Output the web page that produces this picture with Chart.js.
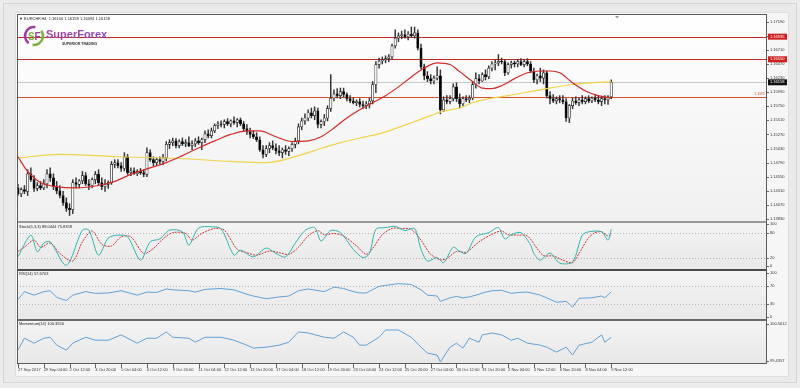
<!DOCTYPE html>
<html>
<head>
<meta charset="utf-8">
<script src="https://cdn.jsdelivr.net/npm/chart.js@4.4.1/dist/chart.umd.min.js"></script>
<style>
html, body { margin: 0; padding: 0; background: #ececec; }
#wrap { position: relative; width: 800px; height: 388px; overflow: hidden; }
#outer { position: absolute; left: 3px; top: 3px; width: 792px; height: 378px; border: 1px solid #d4d4d4; background: #eaeaea; }
#inner { position: absolute; left: 15px; top: 12px; width: 772px; height: 363px; background: #f6f6f6; border: 1px solid #dedede; }
canvas { position: absolute; left: 0; top: 0; }
</style>
</head>
<body>
<div id="wrap">
  <div id="outer"></div>
  <div id="inner"></div>
  <canvas id="chart" width="800" height="388"></canvas>
</div>
<script>
// time labels, one every 8 H4 bars
let xLabels = ['27 Sep 2017', '29 Sep 04:00', '2 Oct 12:00', '3 Oct 20:00', '5 Oct 04:00', '6 Oct 12:00',
  '9 Oct 20:00', '11 Oct 04:00', '12 Oct 12:00', '13 Oct 20:00', '17 Oct 04:00', '18 Oct 12:00',
  '19 Oct 20:00', '23 Oct 04:00', '24 Oct 12:00', '25 Oct 20:00', '27 Oct 04:00', '30 Oct 12:00',
  '31 Oct 20:00', '2 Nov 04:00', '3 Nov 12:00', '6 Nov 20:00', '8 Nov 04:00', '9 Nov 12:00'];
let priceTicks = [1.17190, 1.16950, 1.16710, 1.16470, 1.16230, 1.15990, 1.15750, 1.15510,
  1.15270, 1.15030, 1.14790, 1.14550, 1.14310, 1.14070, 1.13830];

// EURCHF H4 candles
let opens = [
  1.1436, 1.1426, 1.1433, 1.1430, 1.1460, 1.1450, 1.1435, 1.1440, 1.1436, 1.1443,
  1.1460, 1.1453, 1.1438, 1.1431, 1.1423, 1.1411, 1.1401, 1.1399, 1.1445, 1.1442,
  1.1448, 1.1457, 1.1443, 1.1440, 1.1450, 1.1459, 1.1445, 1.1438, 1.1442, 1.1445,
  1.1476, 1.1479, 1.1474, 1.1469, 1.1489, 1.1462, 1.1465, 1.1460, 1.1464, 1.1462,
  1.1459, 1.1496, 1.1484, 1.1479, 1.1484, 1.1481, 1.1487, 1.1510, 1.1513, 1.1516,
  1.1508, 1.1515, 1.1511, 1.1513, 1.1508, 1.1511, 1.1516, 1.1513, 1.1518, 1.1528,
  1.1525, 1.1533, 1.1542, 1.1545, 1.1544, 1.1549, 1.1545, 1.1550, 1.1547, 1.1552,
  1.1545, 1.1537, 1.1532, 1.1527, 1.1523, 1.1518, 1.1501, 1.1493, 1.1503, 1.1508,
  1.1504, 1.1499, 1.1496, 1.1501, 1.1498, 1.1503, 1.1510, 1.1516, 1.1540, 1.1550,
  1.1555, 1.1564, 1.1559, 1.1567, 1.1544, 1.1549, 1.1555, 1.1571, 1.1589, 1.1596,
  1.1593, 1.1600, 1.1595, 1.1588, 1.1584, 1.1581, 1.1583, 1.1578, 1.1576, 1.1579,
  1.1584, 1.1612, 1.1646, 1.1652, 1.1654, 1.1656, 1.1659, 1.1678, 1.1691, 1.1695,
  1.1697, 1.1693, 1.1698, 1.1695, 1.1700, 1.1674, 1.1642, 1.1627, 1.1622, 1.1618,
  1.1623, 1.1627, 1.1569, 1.1586, 1.1583, 1.1588, 1.1608, 1.1588, 1.1579, 1.1588,
  1.1586, 1.1589, 1.1612, 1.1622, 1.1618, 1.1629, 1.1625, 1.1640, 1.1647, 1.1649,
  1.1652, 1.1651, 1.1632, 1.1646, 1.1649, 1.1647, 1.1651, 1.1646, 1.1651, 1.1647,
  1.1635, 1.1620, 1.1627, 1.1623, 1.1632, 1.1593, 1.1588, 1.1584, 1.1588, 1.1586,
  1.1583, 1.1555, 1.1576, 1.1584, 1.1581, 1.1586, 1.1583, 1.1588, 1.1584, 1.1589,
  1.1586, 1.1583, 1.1588, 1.1586, 1.1591];
let highs = [
  1.1442, 1.1436, 1.1440, 1.1467, 1.1470, 1.1457, 1.1445, 1.1447, 1.1450, 1.1467,
  1.1470, 1.1460, 1.1447, 1.1440, 1.1430, 1.1419, 1.1409, 1.1450, 1.1453, 1.1450,
  1.1464, 1.1462, 1.1450, 1.1453, 1.1464, 1.1467, 1.1453, 1.1450, 1.1448, 1.1481,
  1.1484, 1.1484, 1.1479, 1.1496, 1.1493, 1.1470, 1.1470, 1.1467, 1.1469, 1.1467,
  1.1504, 1.1501, 1.1489, 1.1487, 1.1489, 1.1493, 1.1515, 1.1518, 1.1521, 1.1520,
  1.1518, 1.1521, 1.1518, 1.1523, 1.1516, 1.1520, 1.1523, 1.1521, 1.1533, 1.1535,
  1.1538, 1.1545, 1.1549, 1.1550, 1.1552, 1.1554, 1.1552, 1.1557, 1.1554, 1.1555,
  1.1549, 1.1544, 1.1538, 1.1533, 1.1530, 1.1523, 1.1508, 1.1508, 1.1513, 1.1516,
  1.1511, 1.1508, 1.1504, 1.1508, 1.1506, 1.1513, 1.1521, 1.1545, 1.1555, 1.1562,
  1.1569, 1.1572, 1.1574, 1.1572, 1.1552, 1.1561, 1.1576, 1.1629, 1.1603, 1.1605,
  1.1606, 1.1606, 1.1598, 1.1593, 1.1589, 1.1586, 1.1588, 1.1584, 1.1583, 1.1589,
  1.1617, 1.1651, 1.1657, 1.1659, 1.1661, 1.1663, 1.1681, 1.1705, 1.1700, 1.1703,
  1.1705, 1.1702, 1.1710, 1.1710, 1.1705, 1.1681, 1.1647, 1.1634, 1.1629, 1.1627,
  1.1642, 1.1637, 1.1591, 1.1593, 1.1593, 1.1613, 1.1615, 1.1596, 1.1591, 1.1593,
  1.1593, 1.1617, 1.1632, 1.1629, 1.1632, 1.1637, 1.1644, 1.1651, 1.1654, 1.1663,
  1.1657, 1.1654, 1.1649, 1.1652, 1.1652, 1.1654, 1.1656, 1.1654, 1.1656, 1.1651,
  1.1640, 1.1630, 1.1640, 1.1637, 1.1635, 1.1600, 1.1595, 1.1591, 1.1593, 1.1593,
  1.1588, 1.1578, 1.1589, 1.1591, 1.1589, 1.1593, 1.1591, 1.1593, 1.1591, 1.1595,
  1.1593, 1.1591, 1.1593, 1.1593, 1.1620];
let lows = [
  1.1423, 1.1421, 1.1426, 1.1423, 1.1447, 1.1430, 1.1431, 1.1433, 1.1433, 1.1436,
  1.1447, 1.1433, 1.1426, 1.1419, 1.1406, 1.1396, 1.1389, 1.1392, 1.1436, 1.1436,
  1.1443, 1.1440, 1.1433, 1.1436, 1.1443, 1.1440, 1.1433, 1.1430, 1.1435, 1.1442,
  1.1470, 1.1470, 1.1464, 1.1465, 1.1459, 1.1457, 1.1459, 1.1457, 1.1459, 1.1455,
  1.1455, 1.1481, 1.1474, 1.1474, 1.1477, 1.1476, 1.1482, 1.1503, 1.1508, 1.1504,
  1.1504, 1.1508, 1.1506, 1.1506, 1.1501, 1.1506, 1.1510, 1.1501, 1.1513, 1.1521,
  1.1521, 1.1530, 1.1537, 1.1540, 1.1538, 1.1542, 1.1540, 1.1544, 1.1540, 1.1542,
  1.1532, 1.1527, 1.1521, 1.1520, 1.1515, 1.1498, 1.1487, 1.1489, 1.1496, 1.1501,
  1.1494, 1.1491, 1.1487, 1.1493, 1.1491, 1.1498, 1.1504, 1.1511, 1.1535, 1.1544,
  1.1550, 1.1555, 1.1552, 1.1538, 1.1538, 1.1542, 1.1550, 1.1566, 1.1584, 1.1589,
  1.1588, 1.1591, 1.1584, 1.1581, 1.1579, 1.1576, 1.1574, 1.1571, 1.1571, 1.1572,
  1.1579, 1.1598, 1.1640, 1.1647, 1.1649, 1.1651, 1.1656, 1.1674, 1.1685, 1.1690,
  1.1691, 1.1688, 1.1693, 1.1691, 1.1671, 1.1639, 1.1620, 1.1617, 1.1613, 1.1613,
  1.1620, 1.1562, 1.1566, 1.1579, 1.1579, 1.1584, 1.1583, 1.1572, 1.1576, 1.1583,
  1.1581, 1.1586, 1.1606, 1.1613, 1.1617, 1.1620, 1.1622, 1.1635, 1.1637, 1.1644,
  1.1647, 1.1627, 1.1629, 1.1640, 1.1642, 1.1642, 1.1644, 1.1642, 1.1644, 1.1632,
  1.1615, 1.1613, 1.1617, 1.1613, 1.1589, 1.1579, 1.1581, 1.1579, 1.1581, 1.1579,
  1.1549, 1.1547, 1.1571, 1.1578, 1.1576, 1.1579, 1.1579, 1.1581, 1.1581, 1.1583,
  1.1579, 1.1576, 1.1579, 1.1578, 1.1588];
let closes = [
  1.1426, 1.1433, 1.1430, 1.1460, 1.1450, 1.1435, 1.1440, 1.1436, 1.1443, 1.1460,
  1.1453, 1.1438, 1.1431, 1.1423, 1.1411, 1.1401, 1.1399, 1.1445, 1.1442, 1.1448,
  1.1457, 1.1443, 1.1440, 1.1450, 1.1459, 1.1445, 1.1438, 1.1442, 1.1445, 1.1476,
  1.1479, 1.1474, 1.1469, 1.1489, 1.1462, 1.1465, 1.1460, 1.1464, 1.1462, 1.1459,
  1.1496, 1.1484, 1.1479, 1.1484, 1.1481, 1.1487, 1.1510, 1.1513, 1.1516, 1.1508,
  1.1515, 1.1511, 1.1513, 1.1508, 1.1511, 1.1516, 1.1513, 1.1518, 1.1528, 1.1525,
  1.1533, 1.1542, 1.1545, 1.1544, 1.1549, 1.1545, 1.1550, 1.1547, 1.1552, 1.1545,
  1.1537, 1.1532, 1.1527, 1.1523, 1.1518, 1.1501, 1.1493, 1.1503, 1.1508, 1.1504,
  1.1499, 1.1496, 1.1501, 1.1498, 1.1503, 1.1510, 1.1516, 1.1540, 1.1550, 1.1555,
  1.1564, 1.1559, 1.1567, 1.1544, 1.1549, 1.1555, 1.1571, 1.1589, 1.1596, 1.1593,
  1.1600, 1.1595, 1.1588, 1.1584, 1.1581, 1.1583, 1.1578, 1.1576, 1.1579, 1.1584,
  1.1612, 1.1646, 1.1652, 1.1654, 1.1656, 1.1659, 1.1678, 1.1691, 1.1695, 1.1697,
  1.1693, 1.1698, 1.1695, 1.1700, 1.1674, 1.1642, 1.1627, 1.1622, 1.1618, 1.1623,
  1.1627, 1.1569, 1.1586, 1.1583, 1.1588, 1.1608, 1.1588, 1.1579, 1.1588, 1.1586,
  1.1589, 1.1612, 1.1622, 1.1618, 1.1629, 1.1625, 1.1640, 1.1647, 1.1649, 1.1652,
  1.1651, 1.1632, 1.1646, 1.1649, 1.1647, 1.1651, 1.1646, 1.1651, 1.1647, 1.1635,
  1.1620, 1.1627, 1.1623, 1.1632, 1.1593, 1.1588, 1.1584, 1.1588, 1.1586, 1.1583,
  1.1555, 1.1576, 1.1584, 1.1581, 1.1586, 1.1583, 1.1588, 1.1584, 1.1589, 1.1586,
  1.1583, 1.1588, 1.1586, 1.1591, 1.1616];

// moving averages, [bar, price]
let redMA = [[0, 1.1489], [3, 1.1464], [7, 1.1445], [12, 1.1438], [18, 1.1436], [25, 1.1440], [30, 1.1447],
  [35, 1.1459], [41, 1.1470], [46, 1.1479], [51, 1.1491], [56, 1.1504], [61, 1.1516], [66, 1.1527],
  [71, 1.1533], [75, 1.1533], [80, 1.1523], [85, 1.1515], [90, 1.1516], [94, 1.1523], [98, 1.1538],
  [102, 1.1555], [106, 1.1569], [110, 1.1581], [114, 1.1593], [118, 1.1608], [122, 1.1625], [126, 1.1640],
  [130, 1.1649], [134, 1.1646], [137, 1.1634], [141, 1.1617], [144, 1.1606], [147, 1.1605], [150, 1.1610],
  [154, 1.1622], [158, 1.1632], [162, 1.1635], [165, 1.1635], [168, 1.1632], [172, 1.1615], [176, 1.1601],
  [180, 1.1593], [184, 1.1589]];
let yellowMA = [[0, 1.1487], [13, 1.1493], [31, 1.1489], [50, 1.1486], [66, 1.1481], [77, 1.1479],
  [87, 1.1491], [94, 1.1503], [100, 1.1513], [106, 1.1521], [112, 1.1528], [116, 1.1535], [122, 1.1547],
  [128, 1.1559], [132, 1.1567], [137, 1.1572], [141, 1.1581], [146, 1.1588], [152, 1.1593], [162, 1.1603],
  [172, 1.1612], [184, 1.1617]];

// Stochastic(5,3,3)
let stochMain = [[0, 22], [4, 74], [6, 34], [8, 55], [10, 58], [15, 2], [20, 86], [22, 86], [25, 26], [28, 67],
  [31, 74], [34, 70], [38, 14], [41, 58], [44, 65], [47, 86], [51, 82], [53, 50], [56, 91], [60, 94], [63, 89],
  [67, 26], [69, 38], [73, 22], [77, 43], [80, 30], [83, 22], [86, 55], [89, 85], [92, 92], [94, 60], [97, 85],
  [100, 80], [104, 40], [107, 20], [109, 30], [111, 88], [114, 92], [117, 95], [120, 85], [123, 90], [125, 40],
  [127, 12], [130, 20], [132, 8], [135, 45], [137, 35], [139, 30], [142, 70], [146, 80], [149, 92], [151, 65],
  [153, 75], [156, 80], [159, 50], [160, 30], [162, 14], [165, 31], [168, 7], [172, 10], [175, 74], [177, 82],
  [181, 82], [183, 62], [184, 88]];
let stochSignal = [[0, 35], [2, 45], [5, 62], [7, 45], [10, 55], [13, 30], [17, 12], [20, 58], [23, 84], [26, 52],
  [29, 48], [32, 70], [35, 70], [39, 30], [42, 42], [45, 65], [48, 80], [52, 78], [54, 62], [57, 78], [61, 90],
  [64, 86], [68, 40], [71, 32], [74, 26], [78, 36], [81, 32], [84, 28], [87, 45], [90, 72], [93, 85], [95, 75],
  [98, 78], [101, 72], [105, 48], [108, 28], [110, 42], [113, 75], [116, 90], [119, 90], [122, 88], [125, 62],
  [128, 28], [131, 15], [133, 18], [136, 35], [139, 33], [143, 58], [147, 76], [150, 84], [152, 75], [155, 74],
  [158, 72], [161, 42], [163, 25], [166, 24], [169, 14], [172, 8], [174, 30], [177, 68], [179, 80], [181, 82],
  [183, 72], [184, 76]];

// RSI(14)
let rsi = [[0, 40], [2, 58], [5, 50], [8, 58], [10, 60], [12, 45], [15, 38], [17, 50], [21, 58], [24, 54],
  [28, 55], [32, 60], [37, 50], [40, 57], [43, 56], [46, 64], [48, 62], [53, 60], [55, 57], [58, 63], [63, 65],
  [67, 62], [71, 52], [73, 48], [77, 42], [81, 46], [84, 48], [87, 60], [90, 64], [95, 58], [98, 68], [101, 65],
  [104, 58], [106, 55], [108, 55], [112, 70], [114, 72], [118, 76], [122, 74], [125, 62], [127, 50], [130, 48],
  [131, 36], [134, 44], [136, 47], [138, 44], [140, 46], [143, 52], [144, 55], [147, 60], [150, 61], [153, 54],
  [155, 56], [158, 57], [162, 50], [164, 44], [167, 34], [170, 36], [172, 23], [174, 43], [178, 44], [181, 48],
  [182, 44], [184, 57.67]];

// Momentum(14)
let momentum = [[0, 99.77], [2, 100.13], [5, 99.98], [8, 100.13], [10, 100.16], [12, 99.92], [15, 99.77],
  [17, 99.98], [21, 100.16], [24, 100.07], [28, 100.07], [32, 100.23], [37, 99.98], [40, 100.13], [43, 100.13],
  [46, 100.32], [48, 100.16], [53, 100.13], [55, 100.01], [58, 100.16], [63, 100.16], [67, 100.07], [71, 99.92],
  [73, 99.83], [77, 99.86], [81, 99.92], [84, 100.01], [87, 100.32], [90, 100.29], [95, 100.16], [98, 100.13],
  [101, 100.32], [104, 100.16], [106, 99.92], [108, 99.92], [112, 100.16], [114, 100.38], [118, 100.38],
  [122, 100.16], [125, 99.86], [127, 99.68], [130, 99.62], [131, 99.41], [134, 99.86], [136, 99.98],
  [138, 99.83], [140, 100.13], [143, 100.01], [144, 100.23], [147, 100.29], [150, 100.23], [153, 100.07],
  [155, 100.13], [158, 99.98], [162, 99.92], [164, 99.86], [167, 99.71], [170, 99.86], [172, 99.62],
  [174, 99.92], [178, 100.01], [181, 100.23], [182, 100.01], [184, 100.16]];

// horizontal levels drawn on the price pane
let levels = [1.16935, 1.16550];
let supportLevel = 1.15913;
let lastPrice = 1.16158;

const FONT = '"Liberation Sans", Arial, sans-serif';
Chart.defaults.font.family = FONT;
Chart.defaults.font.size = 4;
Chart.defaults.color = '#333';

const pts = arr => arr.map(p => ({x: p[0], y: p[1]}));
const wicks = lows.map((l, i) => ({x: i, y: [l, highs[i]]}));
const bodies = opens.map((o, i) => ({x: i, y: [o, closes[i]]}));
const bodyColors = opens.map((o, i) => closes[i] >= o ? '#ffffff' : '#000000');

function hline(ctx, area, scale, v, color, width, dash) {
  const y = Math.round(scale.getPixelForValue(v)) + 0.5;
  ctx.save();
  ctx.strokeStyle = color;
  ctx.lineWidth = width;
  ctx.setLineDash(dash || []);
  ctx.beginPath();
  ctx.moveTo(area.left, y);
  ctx.lineTo(area.right, y);
  ctx.stroke();
  ctx.restore();
}

function priceBox(ctx, area, scale, v, color) {
  const y = scale.getPixelForValue(v);
  ctx.fillStyle = color;
  ctx.fillRect(area.right + 1, y - 3, 19, 6);
  ctx.fillStyle = '#fff';
  ctx.font = '4px ' + FONT;
  ctx.textBaseline = 'middle';
  ctx.fillText(v.toFixed(5), area.right + 3, y);
}

function drawLogo(ctx) {
  ctx.save();
  ctx.lineWidth = 2.6;
  ctx.strokeStyle = '#9c3d9f';
  ctx.beginPath(); ctx.arc(34, 36, 9, Math.PI * 0.7, Math.PI * 1.55); ctx.stroke();
  ctx.strokeStyle = '#7ab343';
  ctx.beginPath(); ctx.arc(34, 36, 9, Math.PI * 1.8, Math.PI * 0.55); ctx.stroke();
  ctx.font = 'bold 10px ' + FONT;
  ctx.textBaseline = 'alphabetic';
  ctx.fillStyle = '#7ab343'; ctx.fillText('S', 28, 40);
  ctx.fillStyle = '#9c3d9f'; ctx.fillText('F', 34.5, 40);
  ctx.font = 'bold 11px ' + FONT;
  const g = ctx.createLinearGradient(46, 0, 98, 0);
  g.addColorStop(0, '#a8449e');
  g.addColorStop(1, '#8a4cc0');
  ctx.fillStyle = g;
  ctx.fillText('SuperForex', 46, 38);
  ctx.font = 'bold 3.5px ' + FONT;
  ctx.fillStyle = '#333';
  ctx.fillText('SUPERIOR TRADING', 62, 45);
  ctx.restore();
}

const mtFrame = {
  id: 'mtFrame',
  beforeDraw(chart) {
    const {ctx, chartArea: a, scales: s} = chart;
    ctx.save();
    const g = ctx.createLinearGradient(0, s.yMain.top, 0, s.yMain.bottom);
    g.addColorStop(0, '#ffffff');
    g.addColorStop(1, '#f0f0f0');
    ctx.fillStyle = g;
    ctx.fillRect(a.left, s.yMain.top, a.right - a.left, s.yMain.bottom - s.yMain.top);
    ['yStoch', 'yRsi', 'yMom'].forEach(id => {
      const sc = s[id];
      const g2 = ctx.createLinearGradient(0, sc.top, 0, sc.bottom);
      g2.addColorStop(0, '#f4f4f4');
      g2.addColorStop(1, '#e8e8e8');
      ctx.fillStyle = g2;
      ctx.fillRect(a.left, sc.top, a.right - a.left, sc.bottom - sc.top);
    });
    ctx.restore();
  },
  beforeDatasetsDraw(chart) {
    const {ctx, chartArea: a, scales: s} = chart;
    hline(ctx, a, s.yMain, lastPrice, '#c9c9c9', 1);
    levels.forEach(v => hline(ctx, a, s.yMain, v, '#c62828', 1));
    hline(ctx, a, s.yMain, supportLevel, '#d2502e', 1);
    [80, 20].forEach(v => hline(ctx, a, s.yStoch, v, '#b4b4b4', 1, [1, 2]));
    [70, 30].forEach(v => hline(ctx, a, s.yRsi, v, '#b4b4b4', 1, [1, 2]));
  },
  afterDraw(chart) {
    const {ctx, chartArea: a, scales: s} = chart;
    ctx.save();
    // pane separators and frame
    ctx.fillStyle = '#9a9a9a';
    ctx.fillRect(a.left, s.yMain.bottom - 1, a.right - a.left, 2);
    ctx.fillStyle = '#4a4a4a';
    ctx.fillRect(a.left, s.yStoch.bottom - 1, a.right - a.left, 2);
    ctx.fillStyle = '#6a6a6a';
    ctx.fillRect(a.left, s.yRsi.bottom - 1, a.right - a.left, 2);
    ctx.strokeStyle = '#5a5a5a';
    ctx.lineWidth = 1;
    ctx.strokeRect(a.left + 0.5, a.top + 0.5, a.right - a.left - 1, a.bottom - a.top - 1);
    // tick marks
    ctx.strokeStyle = '#666';
    ctx.beginPath();
    s.x.ticks.forEach(t => {
      const x = Math.round(s.x.getPixelForValue(t.value)) + 0.5;
      ctx.moveTo(x, a.bottom); ctx.lineTo(x, a.bottom + 4);
    });
    ['yMain', 'yStoch', 'yRsi', 'yMom'].forEach(id => {
      s[id].ticks.forEach(t => {
        const y = Math.round(s[id].getPixelForValue(t.value)) + 0.5;
        ctx.moveTo(a.right, y); ctx.lineTo(a.right + 2, y);
      });
    });
    ctx.stroke();
    // price boxes on the axis
    levels.forEach(v => priceBox(ctx, a, s.yMain, v, '#cf2020'));
    priceBox(ctx, a, s.yMain, lastPrice, '#111111');
    ctx.fillStyle = '#d2502e';
    ctx.font = '3.5px ' + FONT;
    ctx.textAlign = 'right';
    ctx.textBaseline = 'bottom';
    ctx.fillText(supportLevel.toFixed(4), a.right - 2, s.yMain.getPixelForValue(supportLevel) - 0.5);
    // pane titles
    ctx.textAlign = 'left';
    ctx.textBaseline = 'middle';
    ctx.fillStyle = '#222';
    ctx.font = '4px ' + FONT;
    ctx.fillText('\u25BC EURCHF,H4  1.16100 1.16158 1.16094 1.16158', a.left + 2, s.yMain.top + 5);
    ctx.fillText('Stoch(5,3,3) 88.0444 75.8358', a.left + 2, s.yStoch.top + 5);
    ctx.fillText('RSI(14) 57.6703', a.left + 2, s.yRsi.top + 4);
    ctx.fillText('Momentum(14) 100.3550', a.left + 2, s.yMom.top + 4);
    // chart shift marker
    ctx.fillStyle = '#999';
    ctx.beginPath();
    ctx.moveTo(615, 16); ctx.lineTo(619, 16); ctx.lineTo(617, 18.5); ctx.closePath();
    ctx.fill();
    ctx.restore();
    drawLogo(ctx);
  }
};

const yBase = {
  position: 'right',
  stack: 'panes',
  offset: false,
  grid: {display: false, drawTicks: false},
  border: {display: false},
  afterFit: sc => { sc.width = 33; }
};

new Chart(document.getElementById('chart'), {
  type: 'bar',
  data: {
    datasets: [
      {type: 'line', data: pts(redMA), yAxisID: 'yMain', borderColor: '#d42a2a', borderWidth: 1.2,
        pointRadius: 0, cubicInterpolationMode: 'monotone', order: -2},
      {type: 'line', data: pts(yellowMA), yAxisID: 'yMain', borderColor: '#f2d24a', borderWidth: 1.2,
        pointRadius: 0, cubicInterpolationMode: 'monotone', order: -1},
      {type: 'bar', data: bodies, yAxisID: 'yMain', backgroundColor: bodyColors, borderColor: '#222',
        borderWidth: 0.7, borderSkipped: false, barThickness: 2.4, grouped: false, order: 0},
      {type: 'bar', data: wicks, yAxisID: 'yMain', backgroundColor: '#333', barThickness: 0.8,
        grouped: false, order: 1},
      {type: 'line', data: pts(stochMain), yAxisID: 'yStoch', borderColor: '#33b3ad', borderWidth: 1,
        pointRadius: 0, tension: 0.3},
      {type: 'line', data: pts(stochSignal), yAxisID: 'yStoch', borderColor: '#cc3333', borderWidth: 1,
        borderDash: [2, 1], pointRadius: 0, tension: 0.3},
      {type: 'line', data: pts(rsi), yAxisID: 'yRsi', borderColor: '#62a2d8', borderWidth: 1,
        pointRadius: 0, tension: 0},
      {type: 'line', data: pts(momentum), yAxisID: 'yMom', borderColor: '#62a2d8', borderWidth: 1,
        pointRadius: 0, tension: 0}
    ]
  },
  options: {
    responsive: false,
    animation: false,
    devicePixelRatio: 1,
    layout: {padding: {left: 17, top: 14, right: 0, bottom: 0}},
    plugins: {legend: {display: false}, tooltip: {enabled: false}},
    scales: {
      x: {
        type: 'linear',
        offset: false,
        min: -0.3,
        max: 232.3,
        grid: {display: false, drawTicks: false},
        border: {display: false},
        afterBuildTicks: sc => { sc.ticks = xLabels.map((_, k) => ({value: k * 8})); },
        afterFit: sc => { sc.height = 24; },
        ticks: {
          autoSkip: false, maxRotation: 0, align: 'start', padding: 3,
          callback: (v, i) => xLabels[i]
        }
      },
      yMain: Object.assign({}, yBase, {
        stackWeight: 208, min: 1.13779, max: 1.17321,
        afterBuildTicks: sc => { sc.ticks = priceTicks.map(v => ({value: v})); },
        ticks: {autoSkip: false, padding: 3, callback: v => v.toFixed(5)}
      }),
      yStoch: Object.assign({}, yBase, {
        stackWeight: 48, min: -9.6, max: 105.5,
        afterBuildTicks: sc => { sc.ticks = [100, 80, 20, 0].map(v => ({value: v})); },
        ticks: {autoSkip: false, padding: 3, callback: v => String(v)}
      }),
      yRsi: Object.assign({}, yBase, {
        stackWeight: 50, min: -6.1, max: 106.8,
        afterBuildTicks: sc => { sc.ticks = [100, 70, 30, 0].map(v => ({value: v})); },
        ticks: {autoSkip: false, padding: 3, callback: v => String(v)}
      }),
      yMom: Object.assign({}, yBase, {
        stackWeight: 44, min: 99.349, max: 100.683,
        afterBuildTicks: sc => { sc.ticks = [100.5612, 99.4357].map(v => ({value: v})); },
        ticks: {autoSkip: false, padding: 3, callback: v => v.toFixed(4)}
      })
    }
  },
  plugins: [mtFrame]
});
</script>
</body>
</html>
